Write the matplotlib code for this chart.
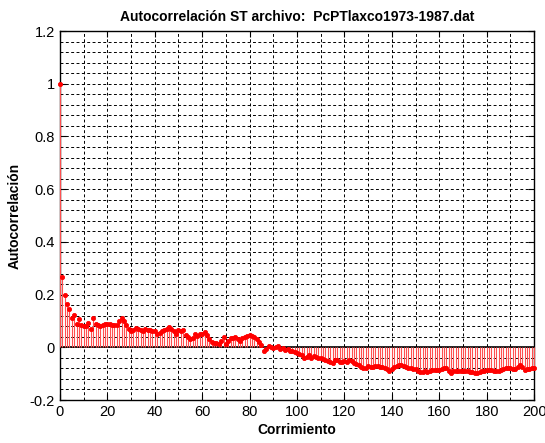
import numpy as np
import matplotlib.pyplot as plt
from matplotlib.ticker import MultipleLocator

plt.rcParams['font.family'] = ['Liberation Sans', 'DejaVu Sans']

# desfase (corrimiento) y autocorrelacion estimada
lags = np.arange(0, 201)
acf = [
    1.000, 0.265, 0.200, 0.166, 0.145, 0.113, 0.124, 0.088, 0.107, 0.085,
    0.082, 0.082, 0.094, 0.069, 0.110, 0.090, 0.085, 0.082, 0.085, 0.087,
    0.088, 0.090, 0.085, 0.086, 0.085, 0.100, 0.110, 0.100, 0.085, 0.070,
    0.062, 0.065, 0.075, 0.068, 0.065, 0.062, 0.068, 0.066, 0.064, 0.060,
    0.060, 0.050, 0.056, 0.060, 0.064, 0.068, 0.078, 0.070, 0.060, 0.050,
    0.065, 0.062, 0.064, 0.047, 0.040, 0.030, 0.036, 0.052, 0.043, 0.050,
    0.050, 0.057, 0.045, 0.030, 0.022, 0.018, 0.015, 0.013, 0.025, 0.038,
    0.013, 0.025, 0.034, 0.036, 0.038, 0.030, 0.025, 0.034, 0.040, 0.042,
    0.045, 0.043, 0.040, 0.032, 0.022, 0.010, -0.013, -0.005, 0.004, 0.002,
    -0.004, 0.002, 0.006, -0.006, -0.004, -0.010, -0.008, -0.013, -0.015, -0.019,
    -0.020, -0.024, -0.030, -0.040, -0.036, -0.030, -0.042, -0.034, -0.036, -0.040,
    -0.042, -0.045, -0.050, -0.052, -0.055, -0.058, -0.048, -0.050, -0.055, -0.054,
    -0.052, -0.055, -0.050, -0.052, -0.058, -0.062, -0.069, -0.076, -0.078, -0.079,
    -0.070, -0.073, -0.073, -0.070, -0.072, -0.074, -0.076, -0.078, -0.082, -0.089,
    -0.084, -0.073, -0.070, -0.068, -0.066, -0.070, -0.075, -0.079, -0.080, -0.082,
    -0.083, -0.090, -0.092, -0.094, -0.090, -0.092, -0.088, -0.085, -0.086, -0.087,
    -0.086, -0.082, -0.080, -0.079, -0.090, -0.098, -0.090, -0.088, -0.089, -0.088,
    -0.089, -0.090, -0.091, -0.092, -0.094, -0.097, -0.098, -0.092, -0.088, -0.088,
    -0.087, -0.086, -0.085, -0.088, -0.090, -0.088, -0.085, -0.083, -0.080, -0.079,
    -0.080, -0.082, -0.083, -0.075, -0.069, -0.075, -0.085, -0.084, -0.082, -0.080,
    -0.079,
]
archivo = 'PcPTlaxco1973-1987.dat'

fig = plt.figure(figsize=(5.45, 4.43), dpi=100)
ax = fig.add_axes([0.110, 0.097, 0.870, 0.833])

markerline, stemlines, baseline = ax.stem(lags, acf, linefmt='r-', markerfmt='ro', basefmt='k-')
stemlines.set_linewidth(0.8)
stemlines.set_color('#ff5050')
stemlines.set_zorder(4)
stemlines.set_clip_on(False)
markerline.set_markersize(3.0)
markerline.set_markeredgewidth(0.6)
markerline.set_zorder(5)
markerline.set_clip_on(False)
baseline.set_linewidth(1.2)
baseline.set_zorder(3)

ax.set_xlim(0, 200)
ax.set_ylim(-0.2, 1.2)
ax.xaxis.set_major_locator(MultipleLocator(20))
ax.xaxis.set_minor_locator(MultipleLocator(10))
ax.yaxis.set_major_locator(MultipleLocator(0.2))
ax.yaxis.set_minor_locator(MultipleLocator(0.04))
ax.set_yticks(np.arange(-0.2, 1.21, 0.2))
ax.set_yticklabels(['-0.2', '0', '0.2', '0.4', '0.6', '0.8', '1', '1.2'])

ax.grid(which='both', color='black', linestyle=(0, (3, 2.5)), linewidth=0.7)
ax.set_axisbelow(True)
ax.tick_params(which='both', direction='in', top=True, right=True, labelsize=10.5)
ax.tick_params(which='major', length=4)
ax.tick_params(which='minor', length=0)
for s in ax.spines.values():
    s.set_linewidth(1.0)

ax.set_title('Autocorrelación ST archivo:  ' + archivo, fontsize=10, fontweight='bold', pad=7)
ax.set_xlabel('Corrimiento', fontsize=10, fontweight='bold', labelpad=3)
ax.set_ylabel('Autocorrelación', fontsize=10, fontweight='bold', labelpad=6)

fig.savefig('out.png', dpi=100)
